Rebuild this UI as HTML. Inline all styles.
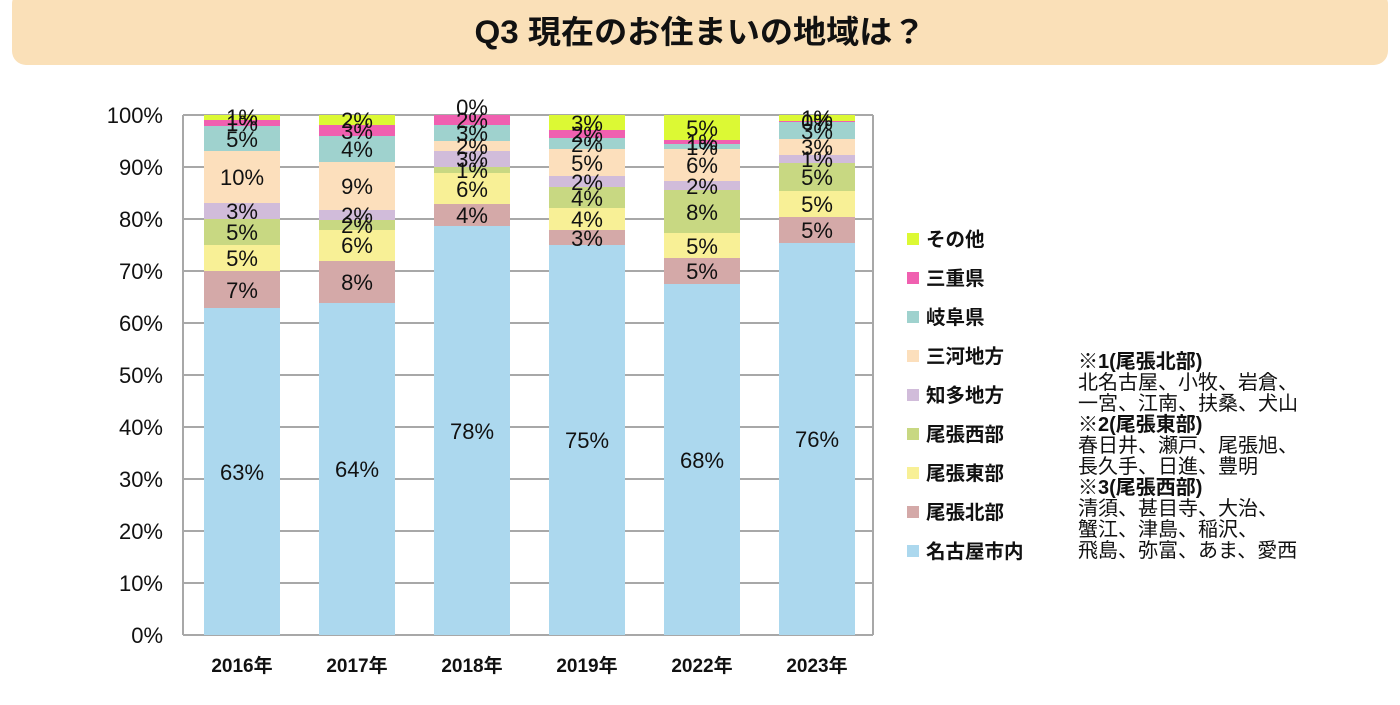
<!DOCTYPE html>
<html><head><meta charset="utf-8"><style>
body{margin:0;background:#fff;width:1400px;height:700px;overflow:hidden;font-family:"Liberation Sans","Noto Sans CJK JP",sans-serif;}
</style></head><body>
<svg width="1400" height="700" xmlns="http://www.w3.org/2000/svg" font-family="Liberation Sans, Noto Sans CJK JP, sans-serif">
<rect x="12" y="-10" width="1376" height="75" rx="14" fill="#fae0b8"/>
<text x="700" y="43" text-anchor="middle" font-size="32" font-weight="bold" fill="#111" textLength="451" lengthAdjust="spacingAndGlyphs">Q3 現在のお住まいの地域は？</text>
<g stroke="#a8a8a8" stroke-width="2">
<line x1="183" y1="115" x2="873" y2="115"/><line x1="183" y1="167" x2="873" y2="167"/><line x1="183" y1="219" x2="873" y2="219"/><line x1="183" y1="271" x2="873" y2="271"/><line x1="183" y1="323" x2="873" y2="323"/><line x1="183" y1="375" x2="873" y2="375"/><line x1="183" y1="427" x2="873" y2="427"/><line x1="183" y1="479" x2="873" y2="479"/><line x1="183" y1="531" x2="873" y2="531"/><line x1="183" y1="583" x2="873" y2="583"/><line x1="183" y1="635" x2="873" y2="635"/><line x1="183" y1="115" x2="183" y2="635"/><line x1="873" y1="115" x2="873" y2="635"/>
</g>
<g font-size="22" text-anchor="end" fill="#111">
<text x="163" y="123">100%</text><text x="163" y="175">90%</text><text x="163" y="227">80%</text><text x="163" y="279">70%</text><text x="163" y="331">60%</text><text x="163" y="383">50%</text><text x="163" y="435">40%</text><text x="163" y="487">30%</text><text x="163" y="539">20%</text><text x="163" y="591">10%</text><text x="163" y="643">0%</text>
</g>
<g>
<rect x="204" y="308" width="76" height="327" fill="#acd8ee"/>
<rect x="204" y="271" width="76" height="37" fill="#d4a9a8"/>
<rect x="204" y="245" width="76" height="26" fill="#f8f096"/>
<rect x="204" y="219" width="76" height="26" fill="#c8d882"/>
<rect x="204" y="203" width="76" height="16" fill="#d1bcda"/>
<rect x="204" y="151" width="76" height="52" fill="#fcdfbc"/>
<rect x="204" y="126" width="76" height="25" fill="#9fd2ce"/>
<rect x="204" y="120" width="76" height="6" fill="#f060b0"/>
<rect x="204" y="115" width="76" height="5" fill="#dcf934"/>
</g>
<g>
<rect x="319" y="303" width="76" height="332" fill="#acd8ee"/>
<rect x="319" y="261" width="76" height="42" fill="#d4a9a8"/>
<rect x="319" y="230" width="76" height="31" fill="#f8f096"/>
<rect x="319" y="220" width="76" height="10" fill="#c8d882"/>
<rect x="319" y="210" width="76" height="10" fill="#d1bcda"/>
<rect x="319" y="162" width="76" height="48" fill="#fcdfbc"/>
<rect x="319" y="136" width="76" height="26" fill="#9fd2ce"/>
<rect x="319" y="125" width="76" height="11" fill="#f060b0"/>
<rect x="319" y="115" width="76" height="10" fill="#dcf934"/>
</g>
<g>
<rect x="434" y="226" width="76" height="409" fill="#acd8ee"/>
<rect x="434" y="204" width="76" height="22" fill="#d4a9a8"/>
<rect x="434" y="173" width="76" height="31" fill="#f8f096"/>
<rect x="434" y="167" width="76" height="6" fill="#c8d882"/>
<rect x="434" y="151" width="76" height="16" fill="#d1bcda"/>
<rect x="434" y="141" width="76" height="10" fill="#fcdfbc"/>
<rect x="434" y="125" width="76" height="16" fill="#9fd2ce"/>
<rect x="434" y="115" width="76" height="10" fill="#f060b0"/>
</g>
<g>
<rect x="549" y="245" width="76" height="390" fill="#acd8ee"/>
<rect x="549" y="230" width="76" height="15" fill="#d4a9a8"/>
<rect x="549" y="208" width="76" height="22" fill="#f8f096"/>
<rect x="549" y="187" width="76" height="21" fill="#c8d882"/>
<rect x="549" y="176" width="76" height="11" fill="#d1bcda"/>
<rect x="549" y="149" width="76" height="27" fill="#fcdfbc"/>
<rect x="549" y="138" width="76" height="11" fill="#9fd2ce"/>
<rect x="549" y="130" width="76" height="8" fill="#f060b0"/>
<rect x="549" y="115" width="76" height="15" fill="#dcf934"/>
</g>
<g>
<rect x="664" y="284" width="76" height="351" fill="#acd8ee"/>
<rect x="664" y="258" width="76" height="26" fill="#d4a9a8"/>
<rect x="664" y="233" width="76" height="25" fill="#f8f096"/>
<rect x="664" y="190" width="76" height="43" fill="#c8d882"/>
<rect x="664" y="181" width="76" height="9" fill="#d1bcda"/>
<rect x="664" y="149" width="76" height="32" fill="#fcdfbc"/>
<rect x="664" y="144" width="76" height="5" fill="#9fd2ce"/>
<rect x="664" y="140" width="76" height="4" fill="#f060b0"/>
<rect x="664" y="115" width="76" height="25" fill="#dcf934"/>
</g>
<g>
<rect x="779" y="243" width="76" height="392" fill="#acd8ee"/>
<rect x="779" y="217" width="76" height="26" fill="#d4a9a8"/>
<rect x="779" y="191" width="76" height="26" fill="#f8f096"/>
<rect x="779" y="163" width="76" height="28" fill="#c8d882"/>
<rect x="779" y="155" width="76" height="8" fill="#d1bcda"/>
<rect x="779" y="139" width="76" height="16" fill="#fcdfbc"/>
<rect x="779" y="122" width="76" height="17" fill="#9fd2ce"/>
<rect x="779" y="121" width="76" height="1" fill="#f060b0"/>
<rect x="779" y="115" width="76" height="6" fill="#dcf934"/>
</g>
<g font-size="22" text-anchor="middle" fill="#111">
<text x="242" y="480">63%</text><text x="242" y="298">7%</text><text x="242" y="266">5%</text><text x="242" y="240">5%</text><text x="242" y="219">3%</text><text x="242" y="185">10%</text><text x="242" y="147">5%</text><text x="242" y="131">1%</text><text x="242" y="125">1%</text>
<text x="357" y="477">64%</text><text x="357" y="290">8%</text><text x="357" y="253">6%</text><text x="357" y="233">2%</text><text x="357" y="223">2%</text><text x="357" y="194">9%</text><text x="357" y="157">4%</text><text x="357" y="139">3%</text><text x="357" y="128">2%</text>
<text x="472" y="439">78%</text><text x="472" y="223">4%</text><text x="472" y="197">6%</text><text x="472" y="178">1%</text><text x="472" y="167">3%</text><text x="472" y="154">2%</text><text x="472" y="141">3%</text><text x="472" y="128">2%</text><text x="472" y="115">0%</text>
<text x="587" y="448">75%</text><text x="587" y="246">3%</text><text x="587" y="227">4%</text><text x="587" y="206">4%</text><text x="587" y="190">2%</text><text x="587" y="171">5%</text><text x="587" y="152">2%</text><text x="587" y="142">2%</text><text x="587" y="131">3%</text>
<text x="702" y="468">68%</text><text x="702" y="279">5%</text><text x="702" y="254">5%</text><text x="702" y="220">8%</text><text x="702" y="194">2%</text><text x="702" y="173">6%</text><text x="702" y="155">1%</text><text x="702" y="150">1%</text><text x="702" y="136">5%</text>
<text x="817" y="447">76%</text><text x="817" y="238">5%</text><text x="817" y="212">5%</text><text x="817" y="185">5%</text><text x="817" y="167">1%</text><text x="817" y="155">3%</text><text x="817" y="139">3%</text><text x="817" y="130">0%</text><text x="817" y="126">1%</text>
</g>
<g font-size="19" font-weight="bold" text-anchor="middle" fill="#111">
<text x="242" y="672">2016年</text><text x="357" y="672">2017年</text><text x="472" y="672">2018年</text><text x="587" y="672">2019年</text><text x="702" y="672">2022年</text><text x="817" y="672">2023年</text>
</g>
<g font-size="19.5" font-weight="bold" fill="#111">
<rect x="907" y="233" width="12" height="12" fill="#dcf934"/><text x="926" y="246">その他</text>
<rect x="907" y="272" width="12" height="12" fill="#f060b0"/><text x="926" y="285">三重県</text>
<rect x="907" y="311" width="12" height="12" fill="#9fd2ce"/><text x="926" y="324">岐阜県</text>
<rect x="907" y="350" width="12" height="12" fill="#fcdfbc"/><text x="926" y="363">三河地方</text>
<rect x="907" y="389" width="12" height="12" fill="#d1bcda"/><text x="926" y="402">知多地方</text>
<rect x="907" y="428" width="12" height="12" fill="#c8d882"/><text x="926" y="441">尾張西部</text>
<rect x="907" y="467" width="12" height="12" fill="#f8f096"/><text x="926" y="480">尾張東部</text>
<rect x="907" y="506" width="12" height="12" fill="#d4a9a8"/><text x="926" y="519">尾張北部</text>
<rect x="907" y="545" width="12" height="12" fill="#acd8ee"/><text x="926" y="558">名古屋市内</text>
</g>
<g font-size="20" fill="#111">
<text x="1078" y="368" font-weight="bold">※1(尾張北部)</text>
<text x="1078" y="389">北名古屋、小牧、岩倉、</text>
<text x="1078" y="410">一宮、江南、扶桑、犬山</text>
<text x="1078" y="431" font-weight="bold">※2(尾張東部)</text>
<text x="1078" y="452">春日井、瀬戸、尾張旭、</text>
<text x="1078" y="473">長久手、日進、豊明</text>
<text x="1078" y="494" font-weight="bold">※3(尾張西部)</text>
<text x="1078" y="515">清須、甚目寺、大治、</text>
<text x="1078" y="536">蟹江、津島、稲沢、</text>
<text x="1078" y="557">飛島、弥富、あま、愛西</text>
</g>
</svg>
</body></html>
